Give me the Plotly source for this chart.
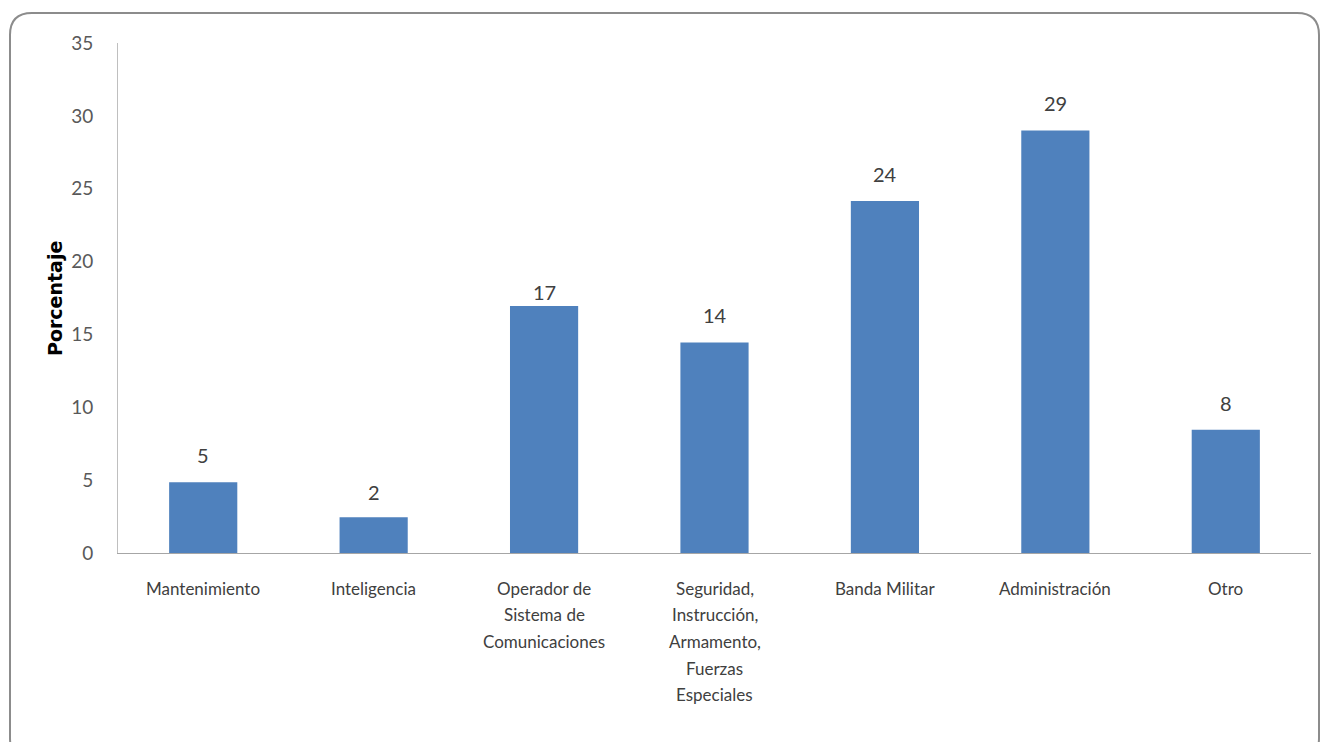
import plotly.graph_objects as go

# ---- data ----
categories = ["Mantenimiento", "Inteligencia", "Operador de Sistema de Comunicaciones",
              "Seguridad, Instrucción, Armamento, Fuerzas Especiales",
              "Banda Militar", "Administración", "Otro"]
category_lines = [["Mantenimiento"], ["Inteligencia"],
                  ["Operador de", "Sistema de", "Comunicaciones"],
                  ["Seguridad,", "Instrucción,", "Armamento,", "Fuerzas", "Especiales"],
                  ["Banda Militar"], ["Administración"], ["Otro"]]
values = [4.85, 2.45, 16.95, 14.45, 24.15, 29.0, 8.45]
value_labels = ["5", "2", "17", "14", "24", "29", "8"]
y_ticks = [0, 5, 10, 15, 20, 25, 30, 35]
y_title = "Porcentaje"

# ---- layout constants ----
W, H = 1325, 742
L, R, T, B = 118, 14, 43, 189
PW, PH = W - L - R, H - T - B
FONT = "Lato, 'Open Sans', sans-serif"

def px_x(p):
    return (p - L) / PW

def px_y(p):
    return (H - B - p) / PH

fig = go.Figure()
fig.add_trace(go.Bar(
    x=categories, y=values, width=0.4,
    marker=dict(color="#4F81BD", line=dict(width=0)),
    hoverinfo="skip", showlegend=False,
))

annotations = []
# data labels
label_shift = [27, 25, 14, 27, 27, 27, 27]
for c, v, t, s in zip(categories, values, value_labels, label_shift):
    annotations.append(dict(x=c, y=v, xref="x", yref="y", text=t, showarrow=False,
                            yanchor="middle", yshift=s,
                            font=dict(family=FONT, size=20, color="#404040")))
# category labels (multi-line)
for c, lines in zip(categories, category_lines):
    for i, ln in enumerate(lines):
        annotations.append(dict(x=c, y=0, xref="x", yref="paper", text=ln, showarrow=False,
                                yanchor="middle", yshift=-35 - i * 26.7,
                                font=dict(family=FONT, size=17, color="#404040")))
# y-axis title
annotations.append(dict(x=px_x(55), y=0.5, xref="paper", yref="paper", text="<b>%s</b>" % y_title,
                        textangle=-90, showarrow=False, xanchor="center", yanchor="middle",
                        font=dict(family="'DejaVu Sans', sans-serif", size=19, color="#000000")))

# rounded outer border
x0, x1 = px_x(10), px_x(1319)
y0, y1 = px_y(760), px_y(13)
rx, ry = 22 / PW, 22 / PH
path = (f"M {x0+rx},{y1} L {x1-rx},{y1} Q {x1},{y1} {x1},{y1-ry} "
        f"L {x1},{y0+ry} Q {x1},{y0} {x1-rx},{y0} L {x0+rx},{y0} Q {x0},{y0} {x0},{y0+ry} "
        f"L {x0},{y1-ry} Q {x0},{y1} {x0+rx},{y1} Z")

fig.update_layout(
    width=W, height=H, autosize=False,
    margin=dict(l=L, r=R, t=T, b=B, pad=0),
    paper_bgcolor="white", plot_bgcolor="white",
    annotations=annotations,
    shapes=[dict(type="path", path=path, xref="paper", yref="paper",
                 line=dict(color="#8c8c8c", width=2), fillcolor="rgba(0,0,0,0)", layer="below")],
    xaxis=dict(type="category", categoryorder="array", categoryarray=categories,
               range=[-0.5, len(categories) - 0.5], showticklabels=False, ticks="",
               showline=True, linecolor="#a6a6a6", linewidth=1, showgrid=False, zeroline=False,
               fixedrange=True),
    yaxis=dict(range=[0, 35], tickvals=y_ticks, ticktext=[str(t) for t in y_ticks],
               showline=True, linecolor="#bfbfbf", linewidth=1, showgrid=False, zeroline=False,
               ticks="", ticklabelstandoff=20,
               tickfont=dict(family=FONT, size=19, color="#595959"), fixedrange=True),
)

fig.write_html("out.html", config={"displayModeBar": False},
               post_script="document.body.style.margin='0px';")
